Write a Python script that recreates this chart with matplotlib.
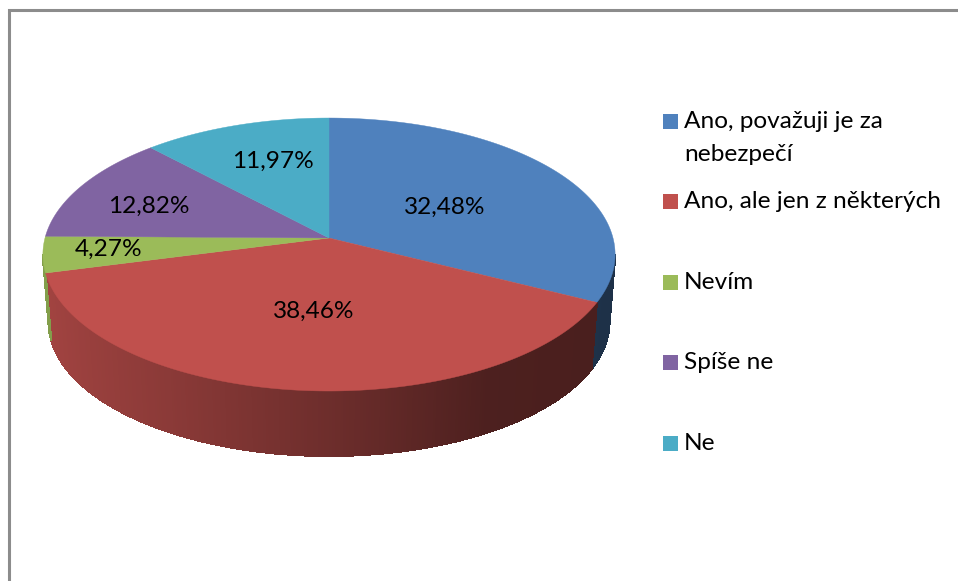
"""Perspective 3D pie of survey answers with a legend on the right."""

import matplotlib

matplotlib.use("Agg")

import matplotlib.pyplot as plt
import numpy as np
from matplotlib.colors import to_rgb

plt.rcParams["font.family"] = ["Lato", "DejaVu Sans"]

CATEGORIES = ["Ano, považuji je za\nnebezpečí", "Ano, ale jen z některých", "Nevím", "Spíše ne", "Ne"]
SHARES = [32.48, 38.46, 4.27, 12.82, 11.97]
SHARE_LABELS = ["32,48%", "38,46%", "4,27%", "12,82%", "11,97%"]
COLORS = ["#4f81bd", "#c0504d", "#9bbb59", "#8064a2", "#4bacc6"]

# pixel layout of the disc, y grows downwards
CX, CY = 329, 238
RX, RY = 284, 134.5
PERSP = 0.121
BOTTOM_Y = 306
BOTTOM_SCALE = 0.98

# text anchors: centre x, baseline y
LABEL_X = [444.5, 313.5, 108.5, 148.5, 273]
LABEL_Y = [214, 318, 256, 213, 168]
LEGEND_Y = [121.5, 201.5, 282.5, 362.5, 443.5]
FONT_SIZE = 17.6


def project(u, v, cy=CY, scale=1.0):
    w = 1 - PERSP * v
    return CX + scale * RX * u / w, cy + scale * RY * v / w


def wall_shade(u):
    return np.interp(u, [-1, -0.5, 0, 0.5, 1], [0.85, 0.72, 0.57, 0.40, 0.38])


fig = plt.figure(figsize=(9.58, 5.81), dpi=100, facecolor="white")
ax = fig.add_axes([0, 0, 1, 1])
ax.set_xlim(0, 958)
ax.set_ylim(581, 0)
ax.axis("off")

# chart frame, only left and top survive the crop
ax.plot([9.5, 9.5, 958], [581, 9.5, 9.5], color="#8c8c8c", lw=2.2, solid_joinstyle="miter")

edges = np.concatenate([[0], np.cumsum(SHARES)]) / sum(SHARES) * 2 * np.pi

# side wall first, only the part below the widest line of the disc shows
for i, color in enumerate(COLORS):
    steps = max(int(np.degrees(edges[i + 1] - edges[i]) * 2), 2)
    angles = np.linspace(edges[i], edges[i + 1], steps + 1)
    base = np.array(to_rgb(color))
    for a0, a1 in zip(angles[:-1], angles[1:]):
        if -np.cos((a0 + a1) / 2) < PERSP:
            continue
        us = np.sin([a0, a1])
        vs = -np.cos([a0, a1])
        xt, yt = project(us, vs)
        xb, yb = project(us, vs, BOTTOM_Y, BOTTOM_SCALE)
        shade = base * wall_shade(us.mean())
        ax.fill(
            [xt[0], xt[1], xb[1], xb[0]],
            [yt[0], yt[1], yb[1], yb[0]],
            color=shade,
            lw=0.8,
            antialiased=False,
            zorder=2,
        )

# top face
for i, color in enumerate(COLORS):
    angles = np.linspace(edges[i], edges[i + 1], 200)
    xs, ys = project(np.sin(angles), -np.cos(angles))
    ax.fill(np.r_[CX, xs], np.r_[CY, ys], color=color, lw=0.3, zorder=3)

for label, lx, ly in zip(SHARE_LABELS, LABEL_X, LABEL_Y):
    ax.text(lx, ly, label, fontsize=FONT_SIZE, color="black", ha="center", va="baseline", zorder=5)

for name, color, y in zip(CATEGORIES, COLORS, LEGEND_Y):
    ax.fill([663, 678, 678, 663], [y - 7.5, y - 7.5, y + 7.5, y + 7.5], color=color, lw=0)
    ax.text(684, y + 6.5, name.split("\n")[0], fontsize=FONT_SIZE, color="black", ha="left", va="baseline")
    if "\n" in name:
        ax.text(684, y + 39.5, name.split("\n")[1], fontsize=FONT_SIZE, color="black", ha="left", va="baseline")

fig.savefig("out.png", dpi=100, facecolor="white")
plt.close(fig)
